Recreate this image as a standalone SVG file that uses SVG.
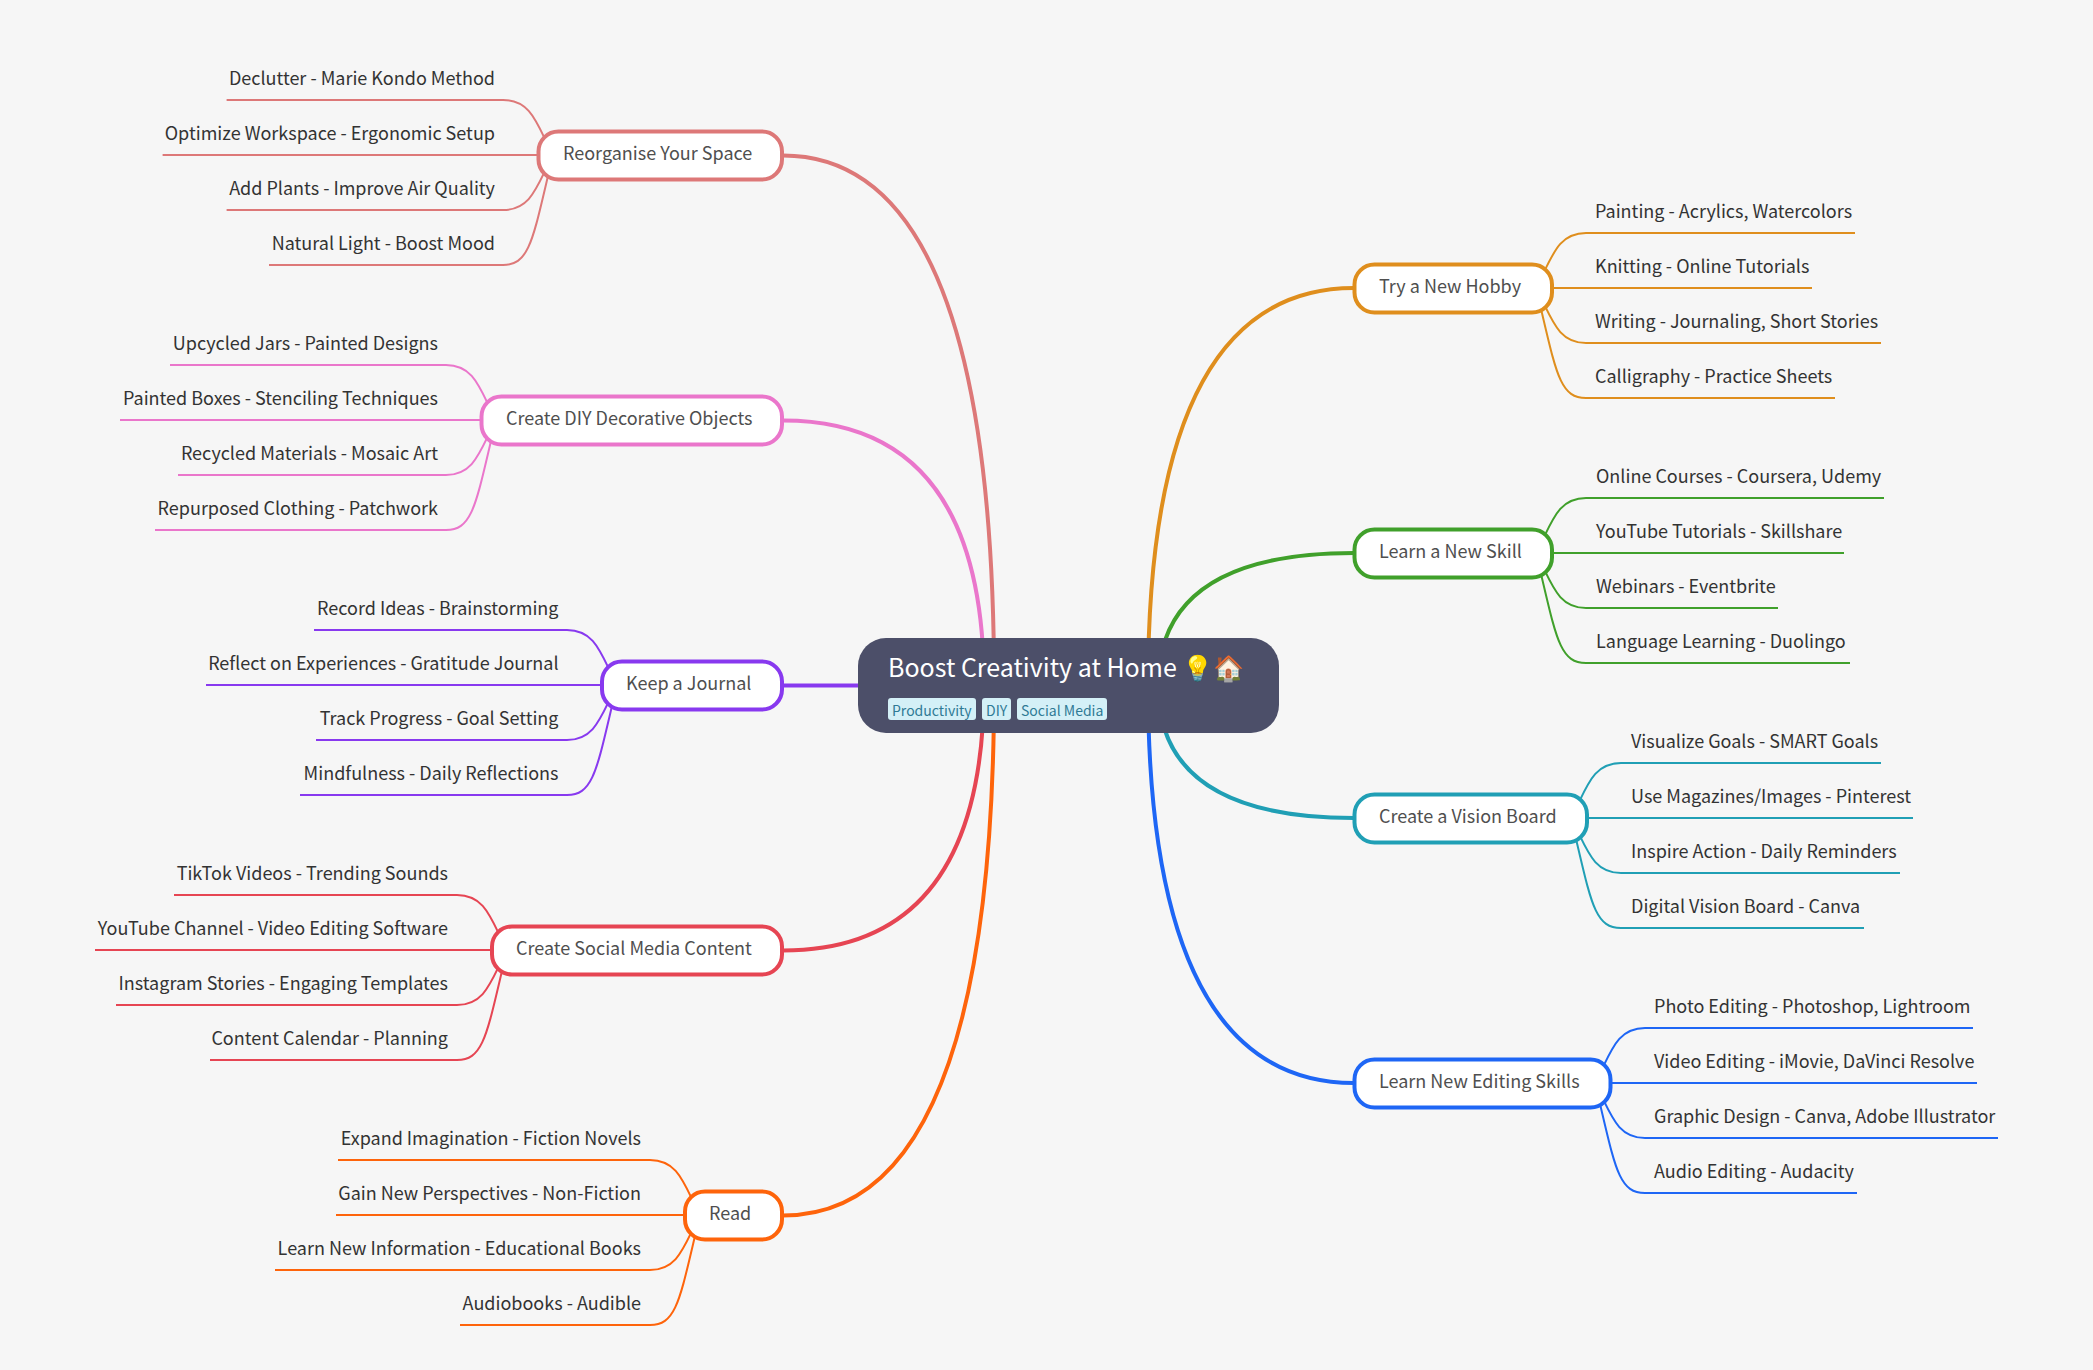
<svg xmlns="http://www.w3.org/2000/svg" width="2093" height="1370" viewBox="0 0 2093 1370">
<style>
text{font-family:"Noto Sans CJK SC","Noto Sans",sans-serif}
.bg{fill:#f6f6f6}
.c path{fill:none;stroke-linecap:butt}
.m{stroke-width:4}
.s{stroke-width:2}
.n{fill:#fff;stroke-width:4}
.nt{font-size:18px;fill:#4f4f4f}
.st{font-size:18px;fill:#333}
.l{text-anchor:end}
.tag{fill:#d4f0f7}
.tt{font-size:14px;fill:#2f7a95}
.fl{stroke:#dd7878}.pk{stroke:#ea76cb}.mv{stroke:#8839ef}.rd{stroke:#e64553}.og{stroke:#fe640b}
.yl{stroke:#df8e1d}.gr{stroke:#40a02b}.sp{stroke:#209fb5}.bl{stroke:#1e66f5}
</style>
<rect class="bg" width="2093" height="1370"/>
<g id="connectors" class="c">
<g class="fl">
<path class="m" d="M994.1 685.5Q994.1 155.5 783 155.5"/>
<path class="s" d="M553 155C537 125 532 100 503 100H226.6"/>
<path class="s" d="M553 155H162.6"/>
<path class="s" d="M553 155C537 185 532 210 503 210H226.6"/>
<path class="s" d="M553 155C533 237 531 265 503 265H269"/>
</g>
<g class="pk">
<path class="m" d="M984 685.5Q984 420.5 783 420.5"/>
<path class="s" d="M496 420C480 390 475 365 446 365H170"/>
<path class="s" d="M496 420H120"/>
<path class="s" d="M496 420C480 450 475 475 446 475H178"/>
<path class="s" d="M496 420C476 502 474 530 446 530H155"/>
</g>
<g class="mv">
<path class="m" d="M973.9 685.5H783"/>
<path class="s" d="M617 685C601 655 596 630 567 630H314"/>
<path class="s" d="M617 685H206"/>
<path class="s" d="M617 685C601 715 596 740 567 740H316"/>
<path class="s" d="M617 685C597 767 595 795 567 795H300"/>
</g>
<g class="rd">
<path class="m" d="M984 685.5Q984 950.5 783 950.5"/>
<path class="s" d="M507 950C491 920 486 895 457 895H174"/>
<path class="s" d="M507 950H95"/>
<path class="s" d="M507 950C491 980 486 1005 457 1005H116"/>
<path class="s" d="M507 950C487 1032 485 1060 457 1060H210"/>
</g>
<g class="og">
<path class="m" d="M994.1 685.5Q994.1 1215.5 783 1215.5"/>
<path class="s" d="M700 1215C684 1185 679 1160 650 1160H338"/>
<path class="s" d="M700 1215H336"/>
<path class="s" d="M700 1215C684 1245 679 1270 650 1270H275"/>
<path class="s" d="M700 1215C680 1297 678 1325 650 1325H460"/>
</g>
<g class="yl">
<path class="m" d="M1148 685.5Q1148 288 1354 288"/>
<path class="s" d="M1536 288C1552 258 1557 233 1586 233H1855"/>
<path class="s" d="M1536 288H1812"/>
<path class="s" d="M1536 288C1552 318 1557 343 1586 343H1881"/>
<path class="s" d="M1536 288C1556 370 1558 398 1586 398H1835"/>
</g>
<g class="gr">
<path class="m" d="M1158.1 685.5Q1158.1 553 1354 553"/>
<path class="s" d="M1536 553C1552 523 1557 498 1586 498H1884"/>
<path class="s" d="M1536 553H1844"/>
<path class="s" d="M1536 553C1552 583 1557 608 1586 608H1778"/>
<path class="s" d="M1536 553C1556 635 1558 663 1586 663H1850"/>
</g>
<g class="sp">
<path class="m" d="M1158.1 685.5Q1158.1 818 1354 818"/>
<path class="s" d="M1571 818C1587 788 1592 763 1621 763H1881"/>
<path class="s" d="M1571 818H1913"/>
<path class="s" d="M1571 818C1587 848 1592 873 1621 873H1900"/>
<path class="s" d="M1571 818C1591 900 1593 928 1621 928H1864"/>
</g>
<g class="bl">
<path class="m" d="M1148 685.5Q1148 1083 1354 1083"/>
<path class="s" d="M1595 1083C1611 1053 1616 1028 1645 1028H1973"/>
<path class="s" d="M1595 1083H1977"/>
<path class="s" d="M1595 1083C1611 1113 1616 1138 1645 1138H1998"/>
<path class="s" d="M1595 1083C1615 1165 1617 1193 1645 1193H1857"/>
</g>
</g>
<g id="root">
<rect x="858" y="638" width="421" height="95" rx="28" fill="#4c4f69"/>
<text x="888" y="677" font-size="25" fill="#fff">Boost Creativity at Home 💡🏠</text>
<rect class="tag" x="888" y="698" width="88" height="22" rx="3"/><text class="tt" x="892" y="716">Productivity</text>
<rect class="tag" x="982" y="698" width="29" height="22" rx="3"/><text class="tt" x="986" y="716">DIY</text>
<rect class="tag" x="1017" y="698" width="90" height="22" rx="3"/><text class="tt" x="1021" y="716">Social Media</text>
</g>
<g id="n-reorganise"><rect class="n fl" x="538.5" y="131.5" width="243.5" height="48" rx="20"/><text class="nt" x="563" y="160">Reorganise Your Space</text>
<text class="st l" x="495" y="85">Declutter - Marie Kondo Method</text><text class="st l" x="495" y="140">Optimize Workspace - Ergonomic Setup</text><text class="st l" x="495" y="195">Add Plants - Improve Air Quality</text><text class="st l" x="495" y="250">Natural Light - Boost Mood</text></g>
<g id="n-diy"><rect class="n pk" x="481.5" y="396.5" width="300.5" height="48" rx="20"/><text class="nt" x="506" y="425">Create DIY Decorative Objects</text>
<text class="st l" x="438" y="350">Upcycled Jars - Painted Designs</text><text class="st l" x="438" y="405">Painted Boxes - Stenciling Techniques</text><text class="st l" x="438" y="460">Recycled Materials - Mosaic Art</text><text class="st l" x="438" y="515">Repurposed Clothing - Patchwork</text></g>
<g id="n-journal"><rect class="n mv" x="602" y="661.5" width="180" height="48" rx="20"/><text class="nt" x="626" y="690">Keep a Journal</text>
<text class="st l" x="558.5" y="615">Record Ideas - Brainstorming</text><text class="st l" x="558.5" y="670">Reflect on Experiences - Gratitude Journal</text><text class="st l" x="558.5" y="725">Track Progress - Goal Setting</text><text class="st l" x="558.5" y="780">Mindfulness - Daily Reflections</text></g>
<g id="n-social"><rect class="n rd" x="492" y="926.5" width="290" height="48" rx="20"/><text class="nt" x="516" y="955">Create Social Media Content</text>
<text class="st l" x="448" y="880">TikTok Videos - Trending Sounds</text><text class="st l" x="448" y="935">YouTube Channel - Video Editing Software</text><text class="st l" x="448" y="990">Instagram Stories - Engaging Templates</text><text class="st l" x="448" y="1045">Content Calendar - Planning</text></g>
<g id="n-read"><rect class="n og" x="685" y="1191.5" width="97" height="48" rx="20"/><text class="nt" x="709" y="1220">Read</text>
<text class="st l" x="641" y="1145">Expand Imagination - Fiction Novels</text><text class="st l" x="641" y="1200">Gain New Perspectives - Non-Fiction</text><text class="st l" x="641" y="1255">Learn New Information - Educational Books</text><text class="st l" x="641" y="1310">Audiobooks - Audible</text></g>
<g id="n-hobby"><rect class="n yl" x="1354.5" y="264.5" width="197.5" height="48" rx="20"/><text class="nt" x="1379" y="293">Try a New Hobby</text>
<text class="st" x="1595" y="218">Painting - Acrylics, Watercolors</text><text class="st" x="1595" y="273">Knitting - Online Tutorials</text><text class="st" x="1595" y="328">Writing - Journaling, Short Stories</text><text class="st" x="1595" y="383">Calligraphy - Practice Sheets</text></g>
<g id="n-skill"><rect class="n gr" x="1354.5" y="529.5" width="197.5" height="48" rx="20"/><text class="nt" x="1379" y="558">Learn a New Skill</text>
<text class="st" x="1596" y="483">Online Courses - Coursera, Udemy</text><text class="st" x="1596" y="538">YouTube Tutorials - Skillshare</text><text class="st" x="1596" y="593">Webinars - Eventbrite</text><text class="st" x="1596" y="648">Language Learning - Duolingo</text></g>
<g id="n-vision"><rect class="n sp" x="1354.5" y="794.5" width="232.5" height="48" rx="20"/><text class="nt" x="1379" y="823">Create a Vision Board</text>
<text class="st" x="1631" y="748">Visualize Goals - SMART Goals</text><text class="st" x="1631" y="803">Use Magazines/Images - Pinterest</text><text class="st" x="1631" y="858">Inspire Action - Daily Reminders</text><text class="st" x="1631" y="913">Digital Vision Board - Canva</text></g>
<g id="n-editing"><rect class="n bl" x="1354.5" y="1059.5" width="256" height="48" rx="20"/><text class="nt" x="1379" y="1088">Learn New Editing Skills</text>
<text class="st" x="1654" y="1013">Photo Editing - Photoshop, Lightroom</text><text class="st" x="1654" y="1068">Video Editing - iMovie, DaVinci Resolve</text><text class="st" x="1654" y="1123">Graphic Design - Canva, Adobe Illustrator</text><text class="st" x="1654" y="1178">Audio Editing - Audacity</text></g>
</svg>
